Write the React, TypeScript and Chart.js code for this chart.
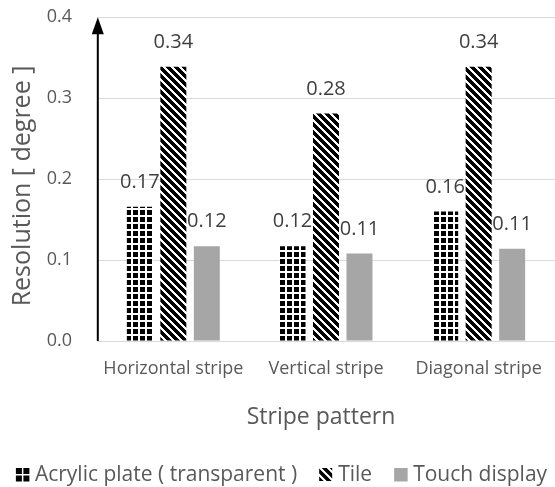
import React, { useEffect, useRef } from "react";
import { Chart, registerables } from "chart.js";

Chart.register(...registerables);

const categories = ["Horizontal stripe", "Vertical stripe", "Diagonal stripe"];
const seriesNames = ["Acrylic plate ( transparent )", "Tile", "Touch display"];
const acrylicValues = [0.166, 0.117, 0.16];
const tileValues = [0.339, 0.281, 0.339];
const touchValues = [0.117, 0.108, 0.114];
const yTicks = [0, 0.1, 0.2, 0.3, 0.4];
const yTitle = "Resolution [ degree ]";
const xTitle = "Stripe pattern";

const FONT = '"Open Sans", "Noto Sans", sans-serif';
const TEXT = "#595959";

function gridPattern(ctx: CanvasRenderingContext2D): CanvasPattern | string {
  const c = document.createElement("canvas");
  c.width = 7;
  c.height = 7;
  const g = c.getContext("2d")!;
  g.fillStyle = "#ffffff";
  g.fillRect(0, 0, 7, 7);
  g.fillStyle = "#000000";
  g.fillRect(0, 0, 5, 5);
  return ctx.createPattern(c, "repeat") || "#000";
}

function diagPattern(ctx: CanvasRenderingContext2D): CanvasPattern | string {
  const n = 8;
  const c = document.createElement("canvas");
  c.width = n;
  c.height = n;
  const g = c.getContext("2d")!;
  const img = g.createImageData(n, n);
  for (let y = 0; y < n; y++) {
    for (let x = 0; x < n; x++) {
      const k = (((x - y) % n) + n) % n;
      const v = k < 3 ? 255 : 0;
      const i = (y * n + x) * 4;
      img.data[i] = v;
      img.data[i + 1] = v;
      img.data[i + 2] = v;
      img.data[i + 3] = 255;
    }
  }
  g.putImageData(img, 0, 0);
  return ctx.createPattern(c, "repeat") || "#000";
}

function drawLegendIcon(ctx: CanvasRenderingContext2D, i: number, x: number, y: number, fill: any) {
  if (i === 0) {
    ctx.fillStyle = "#000";
    const s = 6;
    const g = 1.5;
    ctx.fillRect(x, y, s, s);
    ctx.fillRect(x + s + g, y, s, s);
    ctx.fillRect(x, y + s + g, s, s);
    ctx.fillRect(x + s + g, y + s + g, s, s);
  } else if (i === 1) {
    ctx.save();
    ctx.translate(x, y);
    ctx.fillStyle = fill;
    ctx.fillRect(0, 0, 13, 13);
    ctx.restore();
  } else {
    ctx.fillStyle = fill;
    ctx.fillRect(x, y, 13.5, 13.5);
  }
}

const decorPlugin = {
  id: "decor",
  afterDatasetsDraw(chart: any) {
    const ctx: CanvasRenderingContext2D = chart.ctx;
    const { left, top, bottom } = chart.chartArea;
    ctx.save();

    // data labels
    ctx.font = `20px ${FONT}`;
    ctx.fillStyle = "#404040";
    ctx.textAlign = "center";
    ctx.textBaseline = "alphabetic";
    chart.data.datasets.forEach((ds: any, i: number) => {
      const meta = chart.getDatasetMeta(i);
      meta.data.forEach((el: any, j: number) => {
        ctx.fillText(Number(ds.data[j]).toFixed(2), el.x, el.y - 19);
      });
    });

    // arrow y axis
    const ax = left + 0.8;
    ctx.strokeStyle = "#000";
    ctx.lineWidth = 2;
    ctx.beginPath();
    ctx.moveTo(ax, bottom);
    ctx.lineTo(ax, top + 15);
    ctx.stroke();
    ctx.fillStyle = "#000";
    ctx.beginPath();
    ctx.moveTo(ax, top);
    ctx.lineTo(ax - 6, top + 17);
    ctx.lineTo(ax + 6, top + 17);
    ctx.closePath();
    ctx.fill();

    // y title
    ctx.fillStyle = TEXT;
    ctx.font = `25px ${FONT}`;
    ctx.textAlign = "center";
    ctx.textBaseline = "middle";
    ctx.save();
    ctx.translate(23, 186);
    ctx.rotate(-Math.PI / 2);
    ctx.fillText(yTitle, 0, 0);
    ctx.restore();

    // x title
    ctx.font = `23px ${FONT}`;
    ctx.textBaseline = "alphabetic";
    ctx.fillText(xTitle, 321, 424);

    // legend
    ctx.font = `21px ${FONT}`;
    const box = 13;
    const gap = 6;
    const spacing = 22;
    const fills = chart.data.datasets.map((d: any) => d.backgroundColor);
    const widths = seriesNames.map((s) => box + gap + ctx.measureText(s).width);
    const total = widths.reduce((a, b) => a + b, 0) + spacing * (widths.length - 1);
    let x = chart.width / 2 + 4 - total / 2;
    const by = 468;
    ctx.textAlign = "left";
    seriesNames.forEach((s, i) => {
      drawLegendIcon(ctx, i, x, by, fills[i]);
      ctx.fillStyle = TEXT;
      ctx.fillText(s, x + box + gap, 481);
      x += widths[i] + spacing;
    });

    ctx.restore();
  },
};

export default function App() {
  const ref = useRef<HTMLCanvasElement | null>(null);

  useEffect(() => {
    const canvas = ref.current!;
    const ctx = canvas.getContext("2d")!;
    const chart = new Chart(ctx, {
      type: "bar",
      data: {
        labels: categories,
        datasets: [
          { label: seriesNames[0], data: acrylicValues, backgroundColor: gridPattern(ctx) as any, borderWidth: 0 },
          { label: seriesNames[1], data: tileValues, backgroundColor: diagPattern(ctx) as any, borderWidth: 0 },
          { label: seriesNames[2], data: touchValues, backgroundColor: "#a6a6a6", borderWidth: 0 },
        ],
      },
      options: {
        animation: false,
        responsive: false,
        devicePixelRatio: 1,
        datasets: { bar: { barPercentage: 0.776, categoryPercentage: 0.658 } },
        layout: { padding: { top: 17.3, right: 0, bottom: 0, left: 0 } },
        plugins: { legend: { display: false }, tooltip: { enabled: false } },
        scales: {
          x: {
            grid: { display: false, drawTicks: false },
            border: { display: false },
            ticks: {
              font: { family: FONT, size: 18 },
              color: TEXT,
              padding: 17,
              maxRotation: 0,
              autoSkip: false,
            },
            afterFit: (s: any) => {
              s.height = 146;
              s.paddingLeft = 0;
              s.paddingRight = 0;
            },
          },
          y: {
            min: 0,
            max: 0.4,
            grid: { color: "#d9d9d9", lineWidth: 1, drawTicks: false },
            border: { display: false },
            ticks: {
              font: { family: FONT, size: 18 },
              color: TEXT,
              padding: 25,
              callback: (v: any) => Number(v).toFixed(1),
            },
            afterBuildTicks: (s: any) => {
              s.ticks = yTicks.map((v) => ({ value: v }));
            },
            afterFit: (s: any) => {
              s.width = 97;
              s.paddingTop = 0;
              s.paddingBottom = 0;
            },
          },
        },
      },
      plugins: [decorPlugin],
    });
    return () => chart.destroy();
  }, []);

  return (
    <div style={{ position: "absolute", left: 0, top: 0, width: 555, height: 487, background: "#fff" }}>
      <canvas ref={ref} width={555} height={487} style={{ display: "block" }} />
    </div>
  );
}
